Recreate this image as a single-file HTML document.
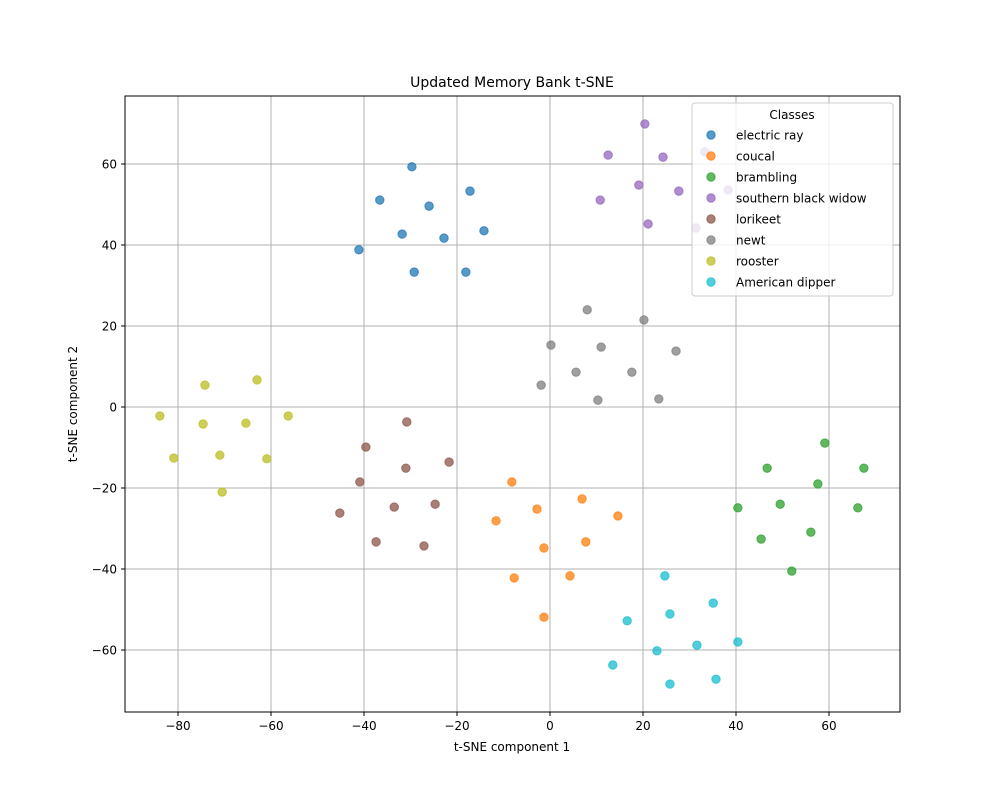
<!DOCTYPE html>
<html><head><meta charset="utf-8"><style>
body{margin:0;background:#fff;font-family:"Liberation Sans","DejaVu Sans",sans-serif}
svg text{font-family:"DejaVu Sans","Liberation Sans",sans-serif}
</style></head><body>
<svg id="chart" width="1000" height="800" xmlns="http://www.w3.org/2000/svg">
<rect width="1000" height="800" fill="#fff"/>
<text x="512" y="87" text-anchor="middle" font-size="14" fill="#000">Updated Memory Bank t-SNE</text>
<g id="grid"></g>
<g id="ticks"></g>
<g id="points"></g>
<rect x="125" y="96" width="775" height="616" fill="none" stroke="#000" stroke-width="1"/>
<text x="512" y="751" text-anchor="middle" font-size="12">t-SNE component 1</text>
<text x="77" y="404" text-anchor="middle" font-size="12" transform="rotate(-90 77 404)">t-SNE component 2</text>
<g id="legend"></g>
</svg>
<script>
const classes=["electric ray","coucal","brambling","southern black widow","lorikeet","newt","rooster","American dipper"];
const colors=["#1f77b4","#ff7f0e","#2ca02c","#9467bd","#8c564b","#7f7f7f","#bcbd22","#17becf"];
const xs=[
[-29.7,-36.6,-26,-17.2,-31.8,-22.8,-14.2,-41.1,-29.2,-18.1],
[-8.2,6.9,-11.6,-2.8,14.6,-1.3,7.7,-7.7,4.3,-1.3],
[59.1,46.7,67.5,57.6,40.4,49.5,66.2,56.1,45.4,52],
[20.4,12.5,24.3,33.3,19.1,27.7,38.3,10.8,21.1,31.4],
[-30.8,-39.6,-21.7,-31,-40.9,-33.5,-24.7,-45.2,-37.4,-27.1],
[8,20.2,0.2,11,27.1,5.6,17.6,-1.9,10.3,23.4],
[-83.9,-74.2,-63,-56.3,-74.6,-65.4,-80.9,-71,-60.9,-70.5],
[24.7,35.1,25.8,16.6,40.4,31.6,23,13.5,35.7,25.8]];
const ys=[
[59.3,51.1,49.6,53.3,42.7,41.7,43.5,38.8,33.3,33.3],
[-18.5,-22.7,-28.1,-25.2,-26.9,-34.8,-33.3,-42.2,-41.7,-51.9],
[-8.9,-15.1,-15.1,-19,-24.9,-24,-24.9,-30.9,-32.6,-40.5],
[69.9,62.2,61.7,63,54.8,53.3,53.6,51.1,45.2,44.2],
[-3.7,-9.9,-13.6,-15.1,-18.5,-24.7,-24,-26.2,-33.3,-34.3],
[24,21.5,15.3,14.8,13.8,8.6,8.6,5.4,1.7,2],
[-2.2,5.4,6.7,-2.2,-4.2,-4,-12.6,-11.9,-12.8,-21],
[-41.7,-48.4,-51.1,-52.8,-58,-58.8,-60.2,-63.7,-67.2,-68.4]];
const xTicks=[-80,-60,-40,-20,0,20,40,60];
const yTicks=[-60,-40,-20,0,20,40,60];
const NS="http://www.w3.org/2000/svg";
const X=v=>550+v*4.65, Y=v=>407-v*4.05;
function mk(tag,attrs,parent){const e=document.createElementNS(NS,tag);for(const k in attrs)e.setAttribute(k,attrs[k]);parent.appendChild(e);return e;}
const grid=document.getElementById('grid'),ticks=document.getElementById('ticks');
xTicks.forEach(t=>{const x=X(t);
 let l=mk('line',{x1:x,x2:x,y1:96,y2:712,stroke:'#b0b0b0','stroke-width':1},grid);
 
 
 mk('line',{x1:x,x2:x,y1:712,y2:716,stroke:'#000'},ticks);
 let tx=mk('text',{x:x,y:730,'text-anchor':'middle','font-size':12},ticks);tx.textContent=(t<0?'\u2212'+(-t):t);
 
 });
yTicks.forEach(t=>{const y=Y(t);
 let l=mk('line',{x1:125,x2:900,y1:y,y2:y,stroke:'#b0b0b0','stroke-width':1},grid);
 
 
 mk('line',{x1:121,x2:125,y1:y,y2:y,stroke:'#000'},ticks);
 let tx=mk('text',{x:117,y:y+4.5,'text-anchor':'end','font-size':12},ticks);tx.textContent=(t<0?'\u2212'+(-t):t);
 
 });
const pts=document.getElementById('points');
classes.forEach((c,i)=>{xs[i].forEach((xv,j)=>{
 const p=mk('circle',{cx:X(xv),cy:Y(ys[i][j]),r:4.2,fill:colors[i],'fill-opacity':0.75,stroke:colors[i],'stroke-opacity':0.75},pts);
 
 });});
const lg=document.getElementById('legend');
const box=mk('rect',{x:692,y:103,width:201,height:193,rx:3,fill:'#fff','fill-opacity':0.8,stroke:'#ccc'},lg);


const lt=mk('text',{x:792,y:119,'text-anchor':'middle','font-size':12},lg);lt.textContent='Classes';


classes.forEach((c,i)=>{const y=135+i*21;
 const g=mk('g',{},lg);
 
 
 mk('circle',{cx:711,cy:y,r:4.2,fill:colors[i],'fill-opacity':0.75,stroke:colors[i],'stroke-opacity':0.75},g);
 const t=mk('text',{x:736,y:y+4.5,'font-size':12},g);t.textContent=c;});
</script>
</body></html>
